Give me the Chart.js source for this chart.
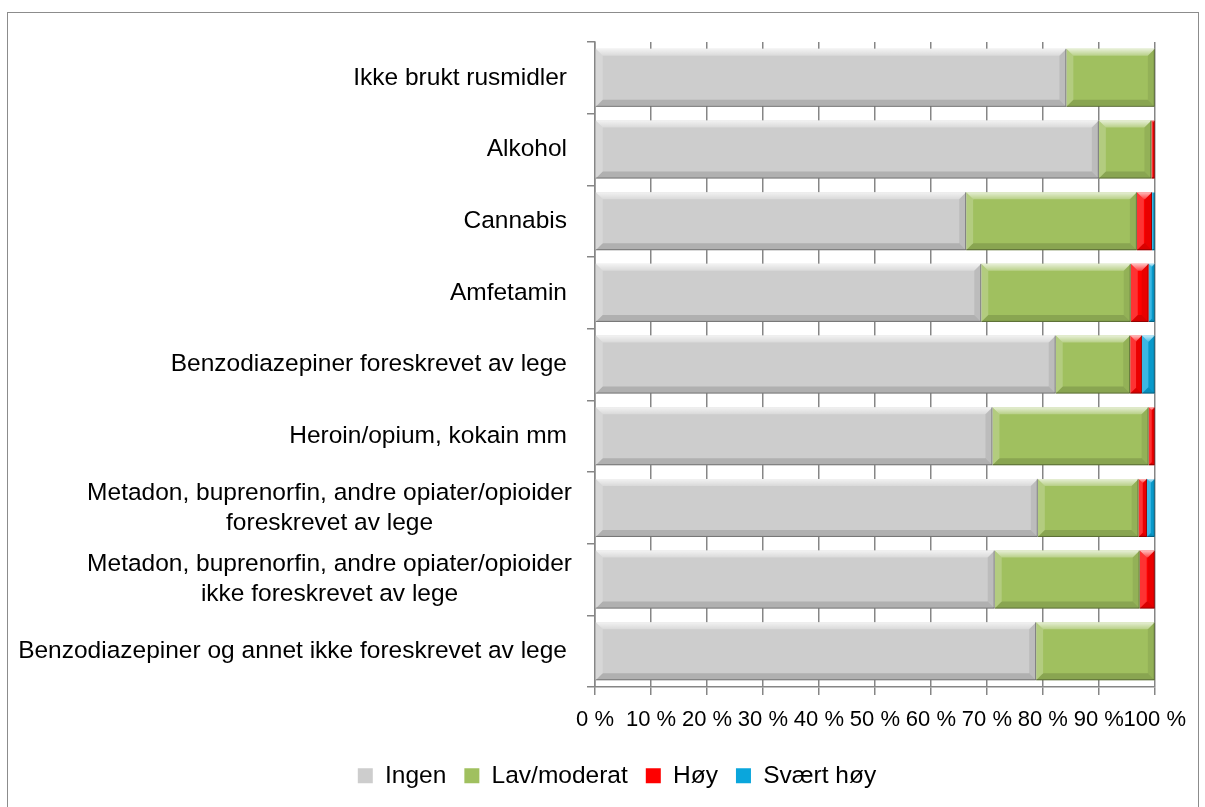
<!DOCTYPE html>
<html>
<head>
<meta charset="utf-8">
<script src="https://cdn.jsdelivr.net/npm/chart.js@4.4.1/dist/chart.umd.min.js"></script>
<style>
  html, body { margin: 0; padding: 0; background: #fff; }
  #frame { position: absolute; left: 7px; top: 12px; width: 1190px; height: 800px; border: 1px solid #8c8c8c; }
  canvas { display: block; }
</style>
</head>
<body>
<div id="frame"><canvas id="rusChart" width="1190" height="794"></canvas></div>
<script>
// categories (top to bottom)
const categories = [
    "Ikke brukt rusmidler",
    "Alkohol",
    "Cannabis",
    "Amfetamin",
    "Benzodiazepiner foreskrevet av lege",
    "Heroin/opium, kokain mm",
    ["Metadon, buprenorfin, andre opiater/opioider", "foreskrevet av lege"],
    ["Metadon, buprenorfin, andre opiater/opioider", "ikke foreskrevet av lege"],
    "Benzodiazepiner og annet ikke foreskrevet av lege"
];
const seriesNames = ["Ingen", "Lav/moderat", "Høy", "Svært høy"];
const ingen   = [84.2, 90.0, 66.3, 69.0, 82.3, 71.0, 79.1, 71.4, 78.8];
const lav     = [15.8,  9.4, 30.5, 26.7, 13.3, 27.9, 18.0, 25.9, 21.2];
const hoy     = [ 0.0,  0.6,  2.7,  3.2,  2.1,  1.1,  1.5,  2.7,  0.0];
const svaertHoy = [0.0, 0.0,  0.5,  1.1,  2.3,  0.0,  1.4,  0.0,  0.0];
const xTickLabels = ["0 %", "10 %", "20 %", "30 %", "40 %", "50 %", "60 %", "70 %", "80 %", "90 %", "100 %"];

const FONT = "'Liberation Sans', Arial, sans-serif";
const LABEL_SIZE = 24.5;
const TICK_SIZE = 22;
const gridGray = "#868686";

// draws the category labels, multi-line ones centred on their widest line
const categoryLabels = {
    id: "categoryLabels",
    afterDraw(chart) {
        const ctx = chart.ctx;
        const yScale = chart.scales.y;
        const right = chart.chartArea.left - 28;
        const lineH = 30;
        ctx.save();
        ctx.font = LABEL_SIZE + "px " + FONT;
        ctx.fillStyle = "#000";
        ctx.textBaseline = "middle";
        ctx.textAlign = "center";
        categories.forEach((lab, i) => {
            const lines = Array.isArray(lab) ? lab : [lab];
            const w = Math.max(...lines.map(l => ctx.measureText(l).width));
            const cx = right + (lines.length > 1 ? 5 : 0) - w / 2;
            const yc = yScale.getPixelForTick(i);
            const y0 = yc - (lines.length - 1) * lineH / 2;
            lines.forEach((l, k) => ctx.fillText(l, cx, y0 + k * lineH));
        });
        ctx.restore();
    }
};

// soft bevel on every bar, like the Excel original
const bevel = {
    id: "bevel",
    afterDatasetsDraw(chart) {
        const ctx = chart.ctx;
        chart.data.datasets.forEach((ds, di) => {
            chart.getDatasetMeta(di).data.forEach(bar => {
                const p = bar.getProps(["x", "y", "base", "height"], true);
                const l = Math.min(p.x, p.base), r = Math.max(p.x, p.base);
                const t = p.y - p.height / 2, b = p.y + p.height / 2;
                if (r - l < 1) return;
                const s = Math.min(7, (r - l) / 2);
                const poly = (pts, fill) => {
                    ctx.beginPath();
                    ctx.moveTo(pts[0][0], pts[0][1]);
                    pts.slice(1).forEach(q => ctx.lineTo(q[0], q[1]));
                    ctx.closePath();
                    ctx.fillStyle = fill;
                    ctx.fill();
                };
                ctx.save();
                const g = ctx.createLinearGradient(0, t, 0, t + s);
                g.addColorStop(0, "rgba(255,255,255,0.75)");
                g.addColorStop(1, "rgba(255,255,255,0.25)");
                poly([[l, t], [r, t], [r - s, t + s], [l + s, t + s]], g);
                poly([[l, t], [l + s, t + s], [l + s, b - s], [l, b]], "rgba(255,255,255,0.2)");
                poly([[l, b], [l + s, b - s], [r - s, b - s], [r, b]], "rgba(0,0,0,0.14)");
                poly([[r, t], [r, b], [r - s, b - s], [r - s, t + s]], "rgba(0,0,0,0.08)");
                ctx.strokeStyle = "rgba(0,0,0,0.35)";
                ctx.lineWidth = 1;
                ctx.beginPath();
                ctx.moveTo(r - 0.5, t);
                ctx.lineTo(r - 0.5, b - 0.5);
                ctx.lineTo(l, b - 0.5);
                ctx.stroke();
                ctx.restore();
            });
        });
    }
};

const ctx = document.getElementById("rusChart").getContext("2d");
new Chart(ctx, {
    type: "bar",
    data: {
        labels: categories,
        datasets: [
            { label: seriesNames[0], data: ingen, backgroundColor: "#cdcdcd" },
            { label: seriesNames[1], data: lav, backgroundColor: "#a0c05f" },
            { label: seriesNames[2], data: hoy, backgroundColor: "#fe0000" },
            { label: seriesNames[3], data: svaertHoy, backgroundColor: "#0aa6dc" }
        ]
    },
    options: {
        responsive: false,
        animation: false,
        indexAxis: "y",
        barPercentage: 0.81,
        categoryPercentage: 1.0,
        layout: { padding: { top: 29, right: 41, bottom: 9, left: 69 } },
        plugins: {
            legend: {
                position: "bottom",
                labels: {
                    boxWidth: 15,
                    boxHeight: 15,
                    color: "#000",
                    padding: 18,
                    font: { family: FONT, size: LABEL_SIZE }
                }
            },
            tooltip: { enabled: false }
        },
        scales: {
            x: {
                stacked: true,
                min: 0,
                max: 100,
                ticks: {
                    stepSize: 10,
                    autoSkip: false,
                    maxRotation: 0,
                    color: "#000",
                    padding: 12,
                    font: { family: FONT, size: TICK_SIZE },
                    callback: v => xTickLabels[Math.round(v / 10)]
                },
                grid: { color: gridGray, lineWidth: 1.5, tickLength: 8 },
                border: { color: gridGray, width: 1.5 }
            },
            y: {
                stacked: true,
                ticks: { display: false },
                grid: { drawOnChartArea: false, tickLength: 8, color: gridGray, lineWidth: 1.5 },
                border: { color: gridGray, width: 1.5 },
                afterFit: s => { s.width = 518; }
            }
        }
    },
    plugins: [categoryLabels, bevel]
});
</script>
</body>
</html>
